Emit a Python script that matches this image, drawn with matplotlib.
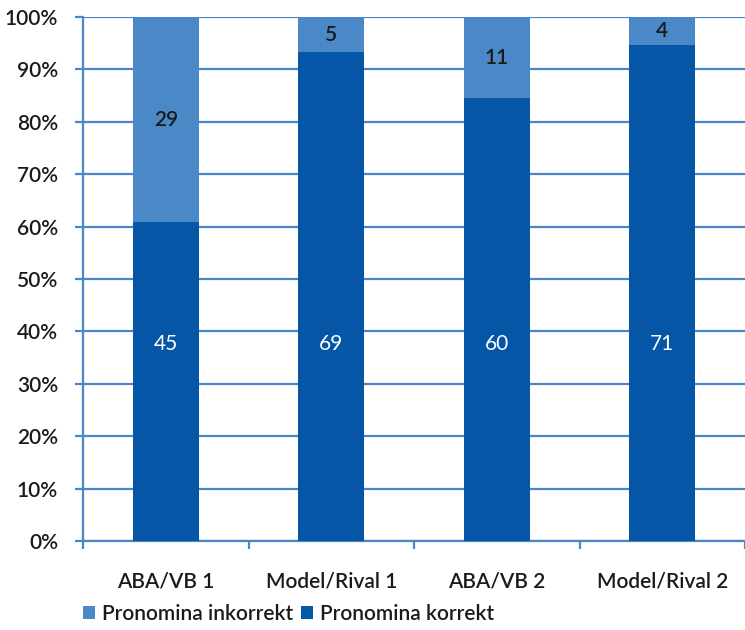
import numpy as np
import matplotlib.pyplot as plt

categories = ["ABA/VB 1", "Model/Rival 1", "ABA/VB 2", "Model/Rival 2"]
korrekt = [45, 69, 60, 71]
inkorrekt = [29, 5, 11, 4]

dark = "#0656A8"
light = "#4A88C8"
grid_col = "#4A86C8"
txt = "#1a1a1a"
fs = 15

plt.rcParams['font.family'] = ['Lato', 'DejaVu Sans']

k = np.array(korrekt, dtype=float)
ink = np.array(inkorrekt, dtype=float)
tot = k + ink
k_pct = k / tot * 100
i_pct = ink / tot * 100

fig = plt.figure(figsize=(7.45, 6.3), dpi=100)
ax = fig.add_axes([83 / 745, (630 - 541) / 630, (745 - 83) / 745, 524 / 630])

x = np.arange(len(categories))
ax.bar(x, k_pct, width=0.4, color=dark, label="Pronomina korrekt", zorder=3)
ax.bar(x, i_pct, bottom=k_pct, width=0.4, color=light, label="Pronomina inkorrekt", zorder=3)

# the korrekt labels all sit at the same height in the original
for xi, kp, ip, kv, iv in zip(x, k_pct, i_pct, korrekt, inkorrekt):
    ax.text(xi, 37.5, str(kv), ha="center", va="center", color="white", fontsize=fs, zorder=4)
    ax.text(xi, kp + ip / 2, str(iv), ha="center", va="center", color=txt, fontsize=fs,
            fontweight="semibold", zorder=4)

ax.set_ylim(0, 100)
ax.set_xlim(-0.5, 3.5 - 6 / 167)
ax.set_yticks(np.arange(0, 101, 10))
ax.set_yticklabels([f"{v}%" for v in range(0, 101, 10)], fontsize=fs, color=txt, fontweight="semibold")
ax.yaxis.grid(True, color=grid_col, linewidth=1.6, zorder=0)
ax.set_axisbelow(True)

ax.set_xticks(x)
ax.set_xticklabels(categories, fontsize=fs, color=txt, fontweight="semibold")
ax.tick_params(axis="x", length=0, pad=22)
ax.set_xticks(np.arange(-0.5, 4, 1), minor=True)
ax.tick_params(axis="x", which="minor", length=6, color=grid_col, width=1.6)
ax.tick_params(axis="y", length=6, color=grid_col, width=1.6, pad=12)

for s in ["top", "right"]:
    ax.spines[s].set_visible(False)
ax.spines["left"].set_color(grid_col)
ax.spines["left"].set_linewidth(1.6)
ax.spines["bottom"].set_color(grid_col)
ax.spines["bottom"].set_linewidth(1.6)

handles, labels = ax.get_legend_handles_labels()
leg = fig.legend(handles[::-1], labels[::-1], loc="center left", bbox_to_anchor=(64 / 745, 16 / 630),
                 ncol=2, frameon=False, prop={"size": fs, "weight": "semibold"},
                 handlelength=0.6, handleheight=0.6, handletextpad=0.3, columnspacing=0.4,
                 labelcolor=txt)

fig.savefig("out.png", dpi=100)
